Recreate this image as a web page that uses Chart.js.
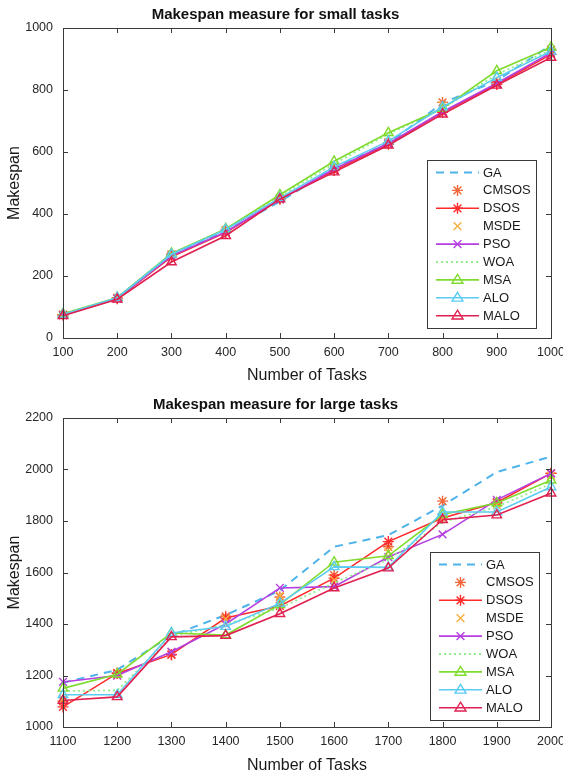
<!DOCTYPE html>
<html>
<head>
<meta charset="utf-8">
<script src="https://cdn.jsdelivr.net/npm/chart.js@4/dist/chart.umd.min.js"></script>
<style>
  html, body { margin: 0; padding: 0; background: #ffffff; }
  .wrap { position: relative; width: 563px; }
  canvas { display: block; }
</style>
</head>
<body>
<div class="wrap"><canvas id="c1" width="563" height="388"></canvas></div>
<div class="wrap"><canvas id="c2" width="563" height="387"></canvas></div>
<script>
// ---------- DATA ----------
const seriesNames = ["GA", "CMSOS", "DSOS", "MSDE", "PSO", "WOA", "MSA", "ALO", "MALO"];

const tasksSmall = ["100", "200", "300", "400", "500", "600", "700", "800", "900", "1000"];
const smallGA    = [75, 128, 268, 345, 440, 548, 628, 758, 830, 945];
const smallCMSOS = [75, 130, 270, 348, 448, 545, 630, 760, 825, 930];
const smallDSOS  = [74, 127, 262, 340, 448, 540, 625, 728, 818, 915];
const smallMSDE  = [76, 129, 268, 346, 450, 548, 632, 750, 828, 925];
const smallPSO   = [74, 127, 265, 342, 447, 545, 628, 730, 822, 920];
const smallWOA   = [78, 130, 272, 350, 458, 562, 658, 740, 850, 930];
const smallMSA   = [78, 130, 273, 352, 462, 570, 662, 740, 862, 938];
const smallALO   = [76, 130, 270, 350, 452, 552, 635, 745, 840, 925];
const smallMALO  = [72, 125, 245, 330, 448, 535, 622, 722, 815, 905];

const tasksLarge = ["1100", "1200", "1300", "1400", "1500", "1600", "1700", "1800", "1900", "2000"];
const largeGA    = [1172, 1222, 1355, 1435, 1530, 1700, 1745, 1860, 1990, 2050];
const largeCMSOS = [1100, 1210, 1280, 1430, 1505, 1590, 1700, 1877, 1870, 1985];
const largeDSOS  = [1078, 1208, 1282, 1423, 1470, 1578, 1720, 1812, 1872, 1985];
const largeMSDE  = [1110, 1200, 1292, 1420, 1510, 1570, 1680, 1810, 1862, 1975];
const largePSO   = [1175, 1200, 1292, 1400, 1540, 1545, 1660, 1748, 1882, 1985];
const largeWOA   = [1140, 1142, 1352, 1398, 1462, 1560, 1650, 1795, 1855, 1945];
const largeMSA   = [1150, 1205, 1365, 1357, 1475, 1640, 1665, 1825, 1870, 1958];
const largeALO   = [1125, 1125, 1365, 1390, 1480, 1622, 1620, 1835, 1835, 1932];
const largeMALO  = [1103, 1117, 1350, 1355, 1440, 1540, 1617, 1805, 1823, 1908];

const smallYTicks = { min: 0, max: 1000, step: 200 };
const largeYTicks = { min: 1000, max: 2200, step: 200 };

// ---------- STYLES ----------
const FONT = "'Liberation Sans', Arial, Helvetica, sans-serif";
const styles = {
  GA:    { color: "#4DB3EA", line: true,  dash: [8, 6], width: 2,   point: false },
  CMSOS: { color: "#F2673A", line: false, dash: [],     width: 1.5, point: "star" },
  DSOS:  { color: "#FF2B2B", line: true,  dash: [],     width: 1.6, point: "star" },
  MSDE:  { color: "#F5B041", line: false, dash: [],     width: 1.5, point: "crossRot" },
  PSO:   { color: "#B43FE0", line: true,  dash: [],     width: 1.6, point: "crossRot" },
  WOA:   { color: "#8EF08E", line: true,  dash: [2, 3], width: 1.8, point: false },
  MSA:   { color: "#7FDB2E", line: true,  dash: [],     width: 1.6, point: "triangle" },
  ALO:   { color: "#5CCBF2", line: true,  dash: [],     width: 1.6, point: "triangle" },
  MALO:  { color: "#E02050", line: true,  dash: [],     width: 1.6, point: "triangle" }
};

function buildDatasets(values) {
  return seriesNames.map((name, i) => {
    const s = styles[name];
    return {
      label: name,
      data: values[i],
      borderColor: s.color,
      backgroundColor: "rgba(255,255,255,0)",
      borderWidth: s.width,
      borderDash: s.dash,
      showLine: s.line,
      pointStyle: s.point || "circle",
      pointRadius: s.point ? 5.5 : 0,
      pointHoverRadius: s.point ? 5.5 : 0,
      pointBorderColor: s.color,
      pointBackgroundColor: "rgba(255,255,255,0)",
      pointBorderWidth: 1.4,
      tension: 0,
      clip: false,
      order: seriesNames.length - i
    };
  });
}

// ---------- PLUGINS ----------
function drawMarker(ctx, style, x, y, r) {
  ctx.beginPath();
  if (style === "star") {
    ctx.moveTo(x - r, y); ctx.lineTo(x + r, y);
    ctx.moveTo(x, y - r); ctx.lineTo(x, y + r);
    const d = r * Math.SQRT1_2;
    ctx.moveTo(x - d, y - d); ctx.lineTo(x + d, y + d);
    ctx.moveTo(x - d, y + d); ctx.lineTo(x + d, y - d);
  } else if (style === "crossRot") {
    const d = r * Math.SQRT1_2;
    ctx.moveTo(x - d, y - d); ctx.lineTo(x + d, y + d);
    ctx.moveTo(x - d, y + d); ctx.lineTo(x + d, y - d);
  } else if (style === "triangle") {
    ctx.moveTo(x, y - r);
    ctx.lineTo(x + r * 0.866 * 1.15, y + r * 0.6);
    ctx.lineTo(x - r * 0.866 * 1.15, y + r * 0.6);
    ctx.closePath();
  }
  ctx.stroke();
}

const matlabBox = {
  id: "matlabBox",
  afterDatasetsDraw(chart) {
    const { ctx, chartArea: a, scales } = chart;
    ctx.save();
    ctx.strokeStyle = "#3a3a3a";
    ctx.lineWidth = 1;
    ctx.setLineDash([]);
    ctx.strokeRect(Math.round(a.left) + 0.5, Math.round(a.top) + 0.5,
                   Math.round(a.right - a.left), Math.round(a.bottom - a.top));
    const tl = 5;
    ctx.beginPath();
    scales.x.ticks.forEach((t, i) => {
      const px = Math.round(scales.x.getPixelForTick(i)) + 0.5;
      ctx.moveTo(px, a.bottom); ctx.lineTo(px, a.bottom - tl);
      ctx.moveTo(px, a.top); ctx.lineTo(px, a.top + tl);
    });
    scales.y.ticks.forEach((t) => {
      const py = Math.round(scales.y.getPixelForValue(t.value)) + 0.5;
      ctx.moveTo(a.left, py); ctx.lineTo(a.left + tl, py);
      ctx.moveTo(a.right, py); ctx.lineTo(a.right - tl, py);
    });
    ctx.stroke();
    ctx.restore();
  }
};

const insideLegend = {
  id: "insideLegend",
  afterDraw(chart, args, opts) {
    const { ctx, chartArea: a } = chart;
    const w = 109, h = 168;
    const right = a.right - (opts.dxRight || 14);
    const bottom = a.bottom - (opts.dyBottom || 9);
    const left = right - w, top = bottom - h;
    ctx.save();
    ctx.fillStyle = "#ffffff";
    ctx.fillRect(left, top, w, h);
    ctx.strokeStyle = "#3a3a3a";
    ctx.lineWidth = 1;
    ctx.setLineDash([]);
    ctx.strokeRect(Math.round(left) + 0.5, Math.round(top) + 0.5, w, h);
    const rowH = 17.9;
    const y0 = top + 12.5;
    const lx0 = left + 9, lx1 = left + 52;
    ctx.font = "13px " + FONT;
    ctx.textBaseline = "middle";
    ctx.textAlign = "left";
    chart.data.datasets.forEach((ds, i) => {
      const y = y0 + i * rowH;
      const s = styles[ds.label];
      ctx.strokeStyle = s.color;
      ctx.lineWidth = s.width;
      if (s.line) {
        ctx.setLineDash(s.dash);
        ctx.beginPath();
        ctx.moveTo(lx0, y); ctx.lineTo(lx1, y);
        ctx.stroke();
      }
      ctx.setLineDash([]);
      if (s.point) {
        ctx.lineWidth = 1.4;
        drawMarker(ctx, s.point, (lx0 + lx1) / 2, y, 5.5);
      }
      ctx.fillStyle = "#1a1a1a";
      ctx.fillText(ds.label, left + 56, y + 0.5);
    });
    ctx.restore();
  }
};

function makeChart(canvasId, title, labels, values, yt, cfg) {
  return new Chart(document.getElementById(canvasId), {
    type: "line",
    data: { labels: labels, datasets: buildDatasets(values) },
    plugins: [matlabBox, insideLegend],
    options: {
      responsive: false,
      devicePixelRatio: 1,
      animation: false,
      layout: { padding: { left: 0, right: 12, top: 0, bottom: 0 } },
      plugins: {
        legend: { display: false },
        tooltip: { enabled: false },
        title: {
          display: true,
          text: title,
          color: "#111111",
          font: { family: FONT, size: 15, weight: "bold" },
          padding: { top: cfg.titleTop, bottom: cfg.titleBottom }
        },
        insideLegend: { dxRight: cfg.legRight, dyBottom: cfg.legBottom }
      },
      scales: {
        x: {
          type: "category",
          offset: false,
          grid: { display: false, drawTicks: false },
          border: { display: false },
          ticks: {
            autoSkip: false, maxRotation: 0, padding: 7,
            color: "#262626", font: { family: FONT, size: 12.5 }
          },
          title: {
            display: true, text: "Number of Tasks", color: "#1a1a1a",
            font: { family: FONT, size: 16 },
            padding: { top: 0, bottom: cfg.xTitleBottom }
          },
          afterFit(s) { s.height = cfg.xHeight; s.paddingLeft = 0; s.paddingRight = 0; }
        },
        y: {
          type: "linear",
          min: yt.min, max: yt.max,
          grid: { display: false, drawTicks: false },
          border: { display: false },
          ticks: {
            stepSize: yt.step, padding: 10,
            color: "#262626", font: { family: FONT, size: 12.5 },
            callback: (v) => String(v)
          },
          title: {
            display: true, text: "Makespan", color: "#1a1a1a",
            font: { family: FONT, size: 16 },
            padding: { top: 5, bottom: 0 }
          },
          afterFit(s) { s.width = 63; s.paddingTop = 0; s.paddingBottom = 0; }
        }
      }
    }
  });
}

makeChart("c1", "Makespan measure for small tasks", tasksSmall,
  [smallGA, smallCMSOS, smallDSOS, smallMSDE, smallPSO, smallWOA, smallMSA, smallALO, smallMALO],
  smallYTicks,
  { titleTop: 6, titleBottom: 4, xHeight: 50, xTitleBottom: 3, legRight: 15, legBottom: 10 });

makeChart("c2", "Makespan measure for large tasks", tasksLarge,
  [largeGA, largeCMSOS, largeDSOS, largeMSDE, largePSO, largeWOA, largeMSA, largeALO, largeMALO],
  largeYTicks,
  { titleTop: 8, titleBottom: 4, xHeight: 48, xTitleBottom: 0, legRight: 12, legBottom: 7 });
</script>
</body>
</html>
